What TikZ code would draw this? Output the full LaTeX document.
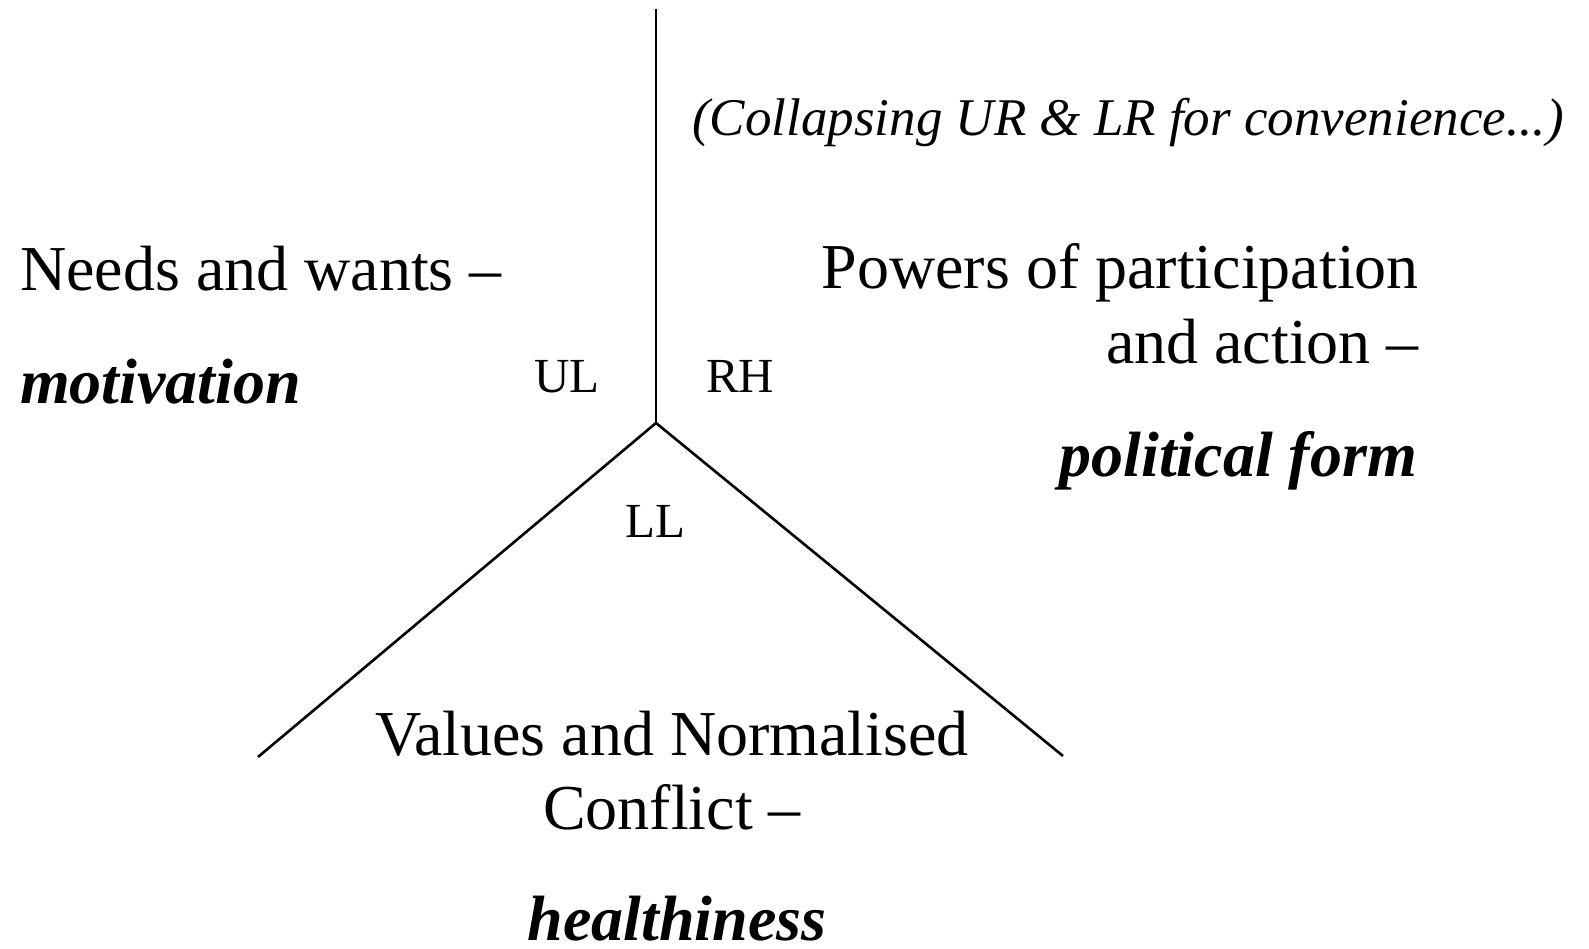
\documentclass[tikz,border=0pt]{standalone}
\usepackage{fontspec}
\setmainfont{Liberation Serif}
\begin{document}
\begin{tikzpicture}[x=1pt,y=-1pt,
  big/.style={inner sep=0pt,font=\fontsize{64}{74}\selectfont},
  bigbi/.style={inner sep=0pt,font=\fontsize{64}{74}\selectfont\bfseries\itshape},
  quad/.style={inner sep=0pt,font=\fontsize{49}{58}\selectfont},
  note/.style={inner sep=0pt,font=\fontsize{53}{62}\selectfont\itshape},
  axis/.style={line width=2.6pt}]
\useasboundingbox (0,0) rectangle (1589,949);
\coordinate (top) at (656,9);
\coordinate (hub) at (656,423);
\coordinate (lend) at (258,757);
\coordinate (rend) at (1063,756);
\draw[axis] (top) -- (hub);
\draw[axis,line join=miter] (lend) -- (hub) -- (rend);

\node[note,anchor=base west] (coll) at (692,136) {(Collapsing UR \& LR for convenience...)};

\node[big,anchor=base west] (needs) at (20,291) {Needs and wants –};
\node[bigbi,anchor=base west] (motiv) at (20,403) {motivation};

\node[quad,anchor=base west] (ul) at (534,392) {UL};
\node[quad,anchor=base west] (rh) at (706,392) {RH};
\node[quad,anchor=base west] (ll) at (625,537) {LL};

\node[big,anchor=base east] (pow1) at (1419,289) {Powers of participation};
\node[big,anchor=base east] (pow2) at (1419,363) {and action –};
\node[bigbi,anchor=base east] (polit) at (1417,476) {political form};

\node[big,anchor=base] (val1) at (672,755) {Values and Normalised};
\node[big,anchor=base] (val2) at (672,829) {Conflict –};
\node[bigbi,anchor=base] (health) at (677,940) {healthiness};
\end{tikzpicture}
\end{document}
